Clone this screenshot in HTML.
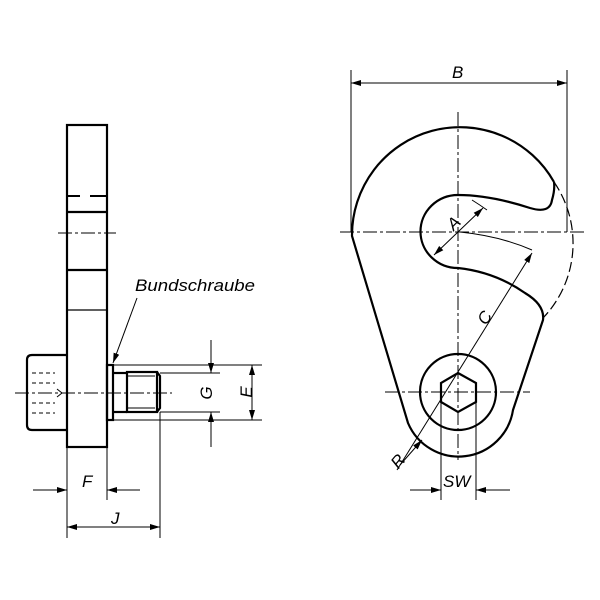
<!DOCTYPE html>
<html><head><style>body{margin:0;background:#fff}svg{display:block}text{font-family:"Liberation Sans",sans-serif;font-style:italic;font-size:17px;fill:#000}</style></head><body>
<svg width="600" height="600" viewBox="0 0 600 600" xmlns="http://www.w3.org/2000/svg">
<defs><marker id="a" viewBox="0 0 10 6" refX="10" refY="3" markerWidth="10" markerHeight="6" orient="auto-start-reverse" markerUnits="userSpaceOnUse"><path d="M0,0L10,3L0,6z" fill="#000"/></marker></defs>
<g fill="none" stroke="#000">
<!-- left view -->
<g stroke-width="2.2">
<rect x="67" y="125" width="40" height="322"/>
<line x1="67" y1="212" x2="107" y2="212"/>
<line x1="67" y1="270" x2="107" y2="270"/>
<path d="M67,355H32Q27,355 27,360V425Q27,430 32,430H67"/>
<rect x="107" y="365" width="6" height="55"/>
<line x1="113" y1="373" x2="127" y2="373"/><line x1="113" y1="412" x2="127" y2="412"/>
<rect x="127" y="372" width="30" height="40"/>
<path d="M157,372L160,376V408L157,412"/>
</g>
<line x1="67" y1="196" x2="80" y2="196" stroke-width="2"/><line x1="90" y1="196" x2="107" y2="196" stroke-width="2"/>
<line x1="67" y1="310" x2="107" y2="310" stroke-width="1.2"/>
<line x1="127" y1="376" x2="155" y2="376" stroke-width="1"/><line x1="127" y1="408" x2="155" y2="408" stroke-width="1"/>
<g stroke-width="1" stroke-dasharray="14,3,3,3">
<line x1="58" y1="233" x2="116" y2="233"/>
<line x1="15" y1="393" x2="172" y2="393"/>
</g>
<g stroke-width="1" stroke-dasharray="4,3"><line x1="32" y1="373" x2="55" y2="373"/><line x1="32" y1="383" x2="55" y2="383"/><line x1="32" y1="403" x2="55" y2="403"/><line x1="32" y1="413" x2="55" y2="413"/></g>
<path d="M57,389L62,393L57,397" stroke-width="1"/>
<g stroke-width="1">
<line x1="113" y1="365" x2="262" y2="365"/><line x1="113" y1="420" x2="262" y2="420"/>
<line x1="160" y1="373" x2="220" y2="373"/><line x1="160" y1="412" x2="220" y2="412"/>
<line x1="211" y1="340" x2="211" y2="373" marker-end="url(#a)"/>
<line x1="211" y1="447" x2="211" y2="412" marker-end="url(#a)"/>
<line x1="252" y1="365" x2="252" y2="420" marker-start="url(#a)" marker-end="url(#a)"/>
<line x1="67" y1="447" x2="67" y2="538"/><line x1="107" y1="447" x2="107" y2="500"/><line x1="160" y1="412" x2="160" y2="538"/>
<line x1="33" y1="490" x2="67" y2="490" marker-end="url(#a)"/>
<line x1="140" y1="490" x2="107" y2="490" marker-end="url(#a)"/>
<line x1="67" y1="527" x2="160" y2="527" marker-start="url(#a)" marker-end="url(#a)"/>
<line x1="137" y1="298" x2="113" y2="363" marker-end="url(#a)"/>
</g>
<!-- right view -->
<g stroke-width="2.2">
<path d="M554,182 A108,108 0 0 0 352,236 L408,423 A55,55 0 0 0 513,410 L543,320 Q545,305 525,293 Q495,272 458,268 A37,36 0 0 1 458,195 Q490,195 530,208 Q550,214 552,200 Q555,190 554,182"/>
<circle cx="458" cy="392" r="38"/>
<path d="M458,373L476,383V402L458,412L441,402V383Z"/>
</g>
<path d="M554,182 A108,108 0 0 1 543,318" stroke-width="1.2" stroke-dasharray="10,4"/>
<g stroke-width="1" stroke-dasharray="14,3,3,3">
<line x1="340" y1="232" x2="585" y2="232"/>
<line x1="458" y1="112" x2="458" y2="460"/>
<line x1="385" y1="392" x2="530" y2="392"/>
</g>
<g stroke-width="1">
<line x1="351" y1="70" x2="351" y2="232"/><line x1="567" y1="70" x2="567" y2="232"/>
<line x1="351" y1="83" x2="567" y2="83" marker-start="url(#a)" marker-end="url(#a)"/>
<line x1="434" y1="255" x2="483" y2="208" marker-start="url(#a)" marker-end="url(#a)"/>
<path d="M472,200 Q480,205 487,210"/>
<path d="M460,232 Q500,236 532,250"/>
<line x1="397" y1="470" x2="532" y2="253" marker-end="url(#a)"/>
<line x1="400" y1="465" x2="422" y2="440" marker-end="url(#a)"/>
<line x1="441" y1="400" x2="441" y2="500"/><line x1="476" y1="400" x2="476" y2="500"/>
<line x1="410" y1="490" x2="441" y2="490" marker-end="url(#a)"/>
<line x1="510" y1="490" x2="476" y2="490" marker-end="url(#a)"/>
</g>
</g>
<text x="135" y="291" textLength="120" lengthAdjust="spacingAndGlyphs">Bundschraube</text>
<text x="206" y="399" transform="rotate(-90 206 393)" text-anchor="middle">G</text>
<text x="247" y="399" transform="rotate(-90 246 393)" text-anchor="middle">E</text>
<text x="82" y="487">F</text>
<text x="111" y="524">J</text>
<text x="452" y="78">B</text>
<text x="447" y="229" transform="rotate(-45 453 222)">A</text>
<text x="478" y="325" transform="rotate(-58 483 318)">C</text>
<text x="392" y="468" transform="rotate(-50 397 462)">R</text>
<text x="443" y="487">SW</text>
</svg>
</body></html>
